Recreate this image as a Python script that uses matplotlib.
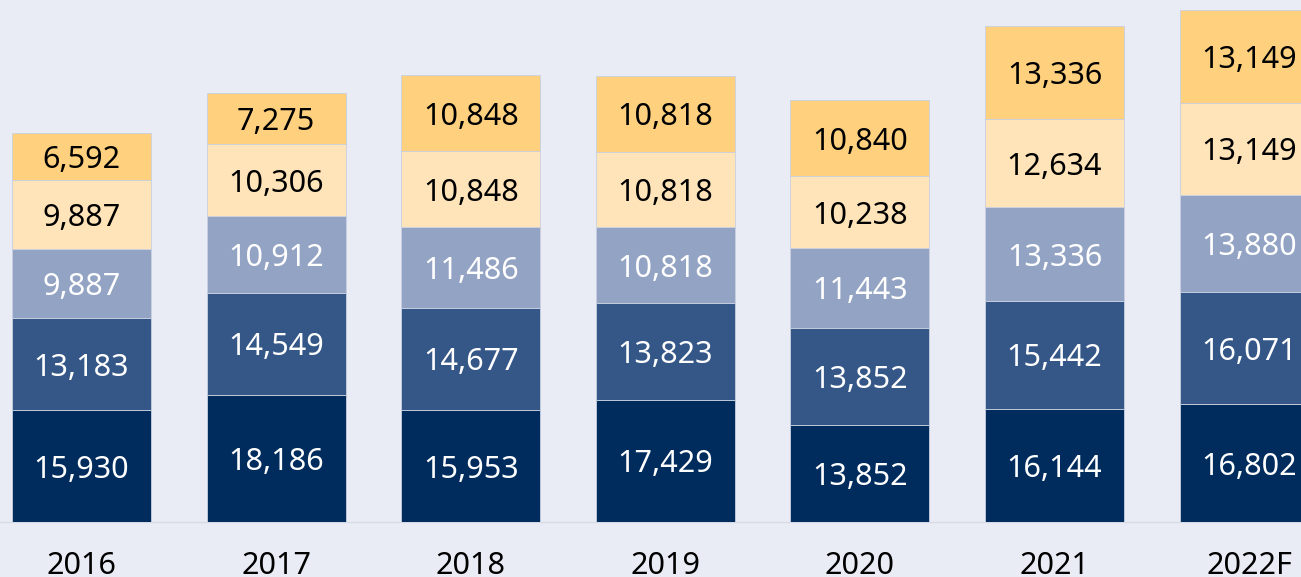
import matplotlib
matplotlib.use("Agg")
import matplotlib.pyplot as plt
import numpy as np

years = ["2016", "2017", "2018", "2019", "2020", "2021", "2022F"]
s1 = [15930, 18186, 15953, 17429, 13852, 16144, 16802]
s2 = [13183, 14549, 14677, 13823, 13852, 15442, 16071]
s3 = [9887, 10912, 11486, 10818, 11443, 13336, 13880]
s4 = [9887, 10306, 10848, 10818, 10238, 12634, 13149]
s5 = [6592, 7275, 10848, 10818, 10840, 13336, 13149]

series = [s1, s2, s3, s4, s5]
colors = ["#002c5d", "#355787", "#93a3c3", "#ffe4b9", "#ffd17f"]
text_colors = ["white", "white", "white", "black", "black"]
bg = "#e9ecf4"

plt.rcParams['font.family'] = ['Noto Sans', 'DejaVu Sans']

fig = plt.figure(figsize=(13.01, 5.77), dpi=100, facecolor=bg)
ax = fig.add_axes([0, 55/577, 1, 522/577])
ax.set_facecolor(bg)

x = np.arange(len(years))
bottom = np.zeros(len(years))
for vals, c, tc in zip(series, colors, text_colors):
    vals = np.array(vals, dtype=float)
    ax.bar(x, vals, width=0.714, bottom=bottom, color=c,
           edgecolor="#c8d0e0", linewidth=0.6, zorder=3)
    for xi, b, v in zip(x, bottom, vals):
        ax.text(xi, b + v / 2, f"{int(v):,}", ha="center", va="center_baseline",
                color=tc, fontsize=22, zorder=4)
    bottom += vals

ax.axhline(0, color="#d6dbe5", linewidth=1, zorder=2, clip_on=False)

ax.set_xlim(-81.5/194.6, (1301-81.5)/194.6)
ax.set_ylim(0, 522*142.8)
ax.set_xticks(x)
ax.set_xticklabels(years, fontsize=22, color="black")
ax.tick_params(axis="x", length=0, pad=21)
ax.set_yticks([])
for sp in ax.spines.values():
    sp.set_visible(False)

fig.savefig("out.png", dpi=100, facecolor=bg)
